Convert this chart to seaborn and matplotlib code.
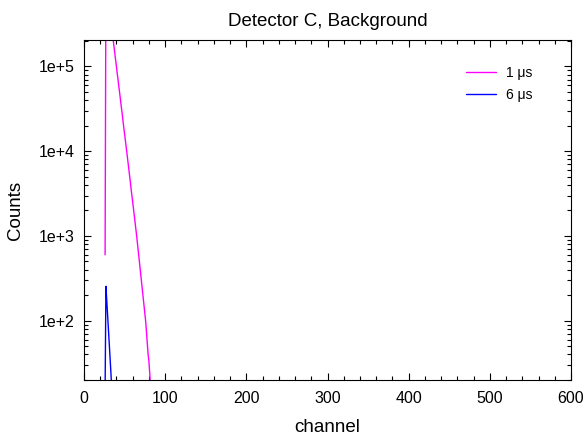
import numpy as np
import pandas as pd
import seaborn as sns
import matplotlib
matplotlib.use("Agg")
import matplotlib.pyplot as plt
from matplotlib.lines import Line2D
from matplotlib.ticker import LogLocator, MultipleLocator, FuncFormatter, NullFormatter

# Counts per channel, 1 us shaping time
ch_1us = list(range(26, 83))
counts_1us = [600, 1.05e6, 8.7e5, 7.2e5, 6.0e5, 5.0e5, 4.1e5, 3.4e5, 2.9e5, 2.4e5,
              2.04e5, 1.70e5, 1.42e5, 1.18e5, 9.9e4, 8.2e4, 6.9e4, 5.7e4, 4.8e4, 4.0e4,
              3.3e4, 2.8e4, 2.3e4, 1.9e4, 1.6e4, 1.34e4, 1.11e4, 9300, 7700, 6400,
              5300, 4400, 3600, 3000, 2500, 2080, 1720, 1430, 1180, 980,
              790, 645, 525, 425, 345, 280, 226, 184, 149, 121,
              98, 73, 54, 40, 33, 24, 16]

# Counts per channel, 6 us shaping time
ch_6us = list(range(26, 36))
counts_6us = [15, 255, 175, 120, 82, 56, 38, 26, 17, 11]

labels = ["1 \u03bcs", "6 \u03bcs"]
colors = ["#ff00ff", "#0000ff"]

df = pd.concat([
    pd.DataFrame({"channel": ch_1us, "Counts": counts_1us, "shaping": labels[0]}),
    pd.DataFrame({"channel": ch_6us, "Counts": counts_6us, "shaping": labels[1]}),
])

sns.set_style("ticks")
plt.rcParams["font.family"] = ["Liberation Sans", "DejaVu Sans"]
plt.rcParams["text.color"] = "black"
plt.rcParams["axes.labelcolor"] = "black"
plt.rcParams["xtick.color"] = "black"
plt.rcParams["ytick.color"] = "black"
plt.rcParams["xtick.direction"] = "in"
plt.rcParams["ytick.direction"] = "in"

fig = plt.figure(figsize=(5.86, 4.4), dpi=100)
ax = fig.add_axes([84 / 586, 1 - 380 / 440, 487 / 586, 340 / 440])

sns.lineplot(data=df, x="channel", y="Counts", hue="shaping", hue_order=labels,
             palette=colors, estimator=None, linewidth=1.0, ax=ax, legend=False)

ax.set_yscale("log")
ax.set_xlim(0, 600)
ax.set_ylim(20, 2.05e5)

ax.xaxis.set_major_locator(MultipleLocator(100))
ax.xaxis.set_minor_locator(MultipleLocator(20))
ax.yaxis.set_major_locator(LogLocator(base=10, numticks=10))
ax.yaxis.set_minor_locator(LogLocator(base=10, subs=np.arange(2, 10), numticks=20))
ax.yaxis.set_major_formatter(FuncFormatter(lambda v, p: "1e+%d" % round(np.log10(v))))
ax.yaxis.set_minor_formatter(NullFormatter())

ax.tick_params(which="both", top=True, right=True, direction="in",
               labelsize=11.5, color="black", labelcolor="black")
ax.tick_params(which="major", length=5, width=0.8)
ax.tick_params(which="minor", length=3, width=0.8)
ax.tick_params(axis="x", pad=8)
ax.tick_params(axis="y", pad=6.5)
for s in ax.spines.values():
    s.set_linewidth(0.8)
    s.set_color("black")

ax.set_title("Detector C, Background", fontsize=13.5, pad=10, color="black")
ax.set_xlabel("channel", fontsize=13.5, labelpad=9)
ax.set_ylabel("Counts", fontsize=13.5, labelpad=11)

handles = [Line2D([], [], color=c, linewidth=1.0) for c in colors]
ax.legend(handles, labels, loc="upper left", bbox_to_anchor=(0.784, 0.925),
          frameon=False, fontsize=10, handlelength=2.2, handletextpad=0.7,
          borderaxespad=0, borderpad=0, labelspacing=0.6)

fig.savefig("out.png", dpi=100)
